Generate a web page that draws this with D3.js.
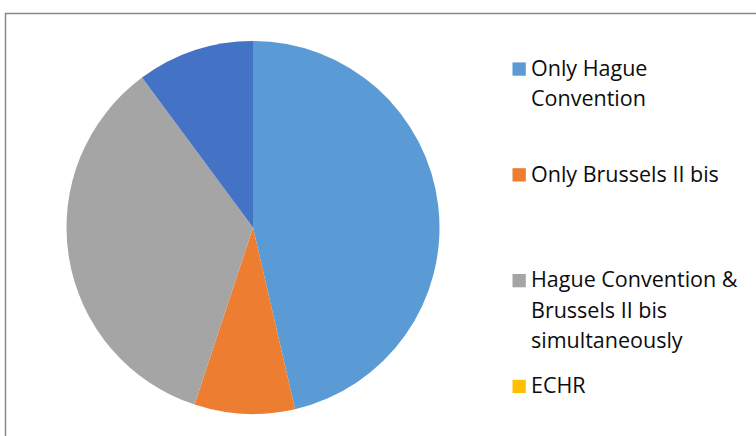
<!DOCTYPE html>
<html><head><meta charset="utf-8">
<script src="https://cdn.jsdelivr.net/npm/d3@7"></script>
<style>html,body{margin:0;padding:0;background:#fff;overflow:hidden}</style>
</head><body>
<svg id="c" width="756" height="436"></svg>
<script>
const categories = [
  ["Only Hague", "Convention"],
  ["Only Brussels II bis"],
  ["Hague Convention &", "Brussels II bis", "simultaneously"],
  ["ECHR"],
  ["Other"]
];
const values = [32, 6, 24, 0, 7];
const colors = ["#5B9BD5", "#ED7D31", "#A5A5A5", "#FFC000", "#4472C4"];
const visibleLegendCount = 4;

const svg = d3.select("#c");
svg.append("rect").attr("x", 5.5).attr("y", 13.5).attr("width", 800).attr("height", 500)
  .attr("fill", "#fff").attr("stroke", "#8a8a8a").attr("stroke-width", 1.5);

const cx = 253, cy = 227.5, r = 186.5;
const pie = d3.pie().sort(null).value(d => d)(values);
const arc = d3.arc().innerRadius(0).outerRadius(r);
svg.append("g").attr("transform", `translate(${cx},${cy})`)
  .selectAll("path").data(pie).enter().append("path")
  .attr("d", arc).attr("fill", (d, i) => colors[i]);

const rowY = d3.scaleLinear().domain([0, 1]).range([75.7, 181.5]);
const lineH = 30.3;
const lg = svg.append("g");
categories.slice(0, visibleLegendCount).forEach((lines, i) => {
  const by = rowY(i);
  lg.append("rect").attr("x", 512.5).attr("y", by - 13.3).attr("width", 13.3).attr("height", 13.3)
    .attr("fill", colors[i]);
  const t = lg.append("text").attr("x", 531).attr("y", by)
    .attr("font-family", "'Open Sans', Lato, sans-serif").attr("font-size", 21.5).attr("fill", "#0d0d0d");
  lines.forEach((l, j) => t.append("tspan").attr("x", 531).attr("y", by + j * lineH).text(l));
});
</script>
</body></html>
